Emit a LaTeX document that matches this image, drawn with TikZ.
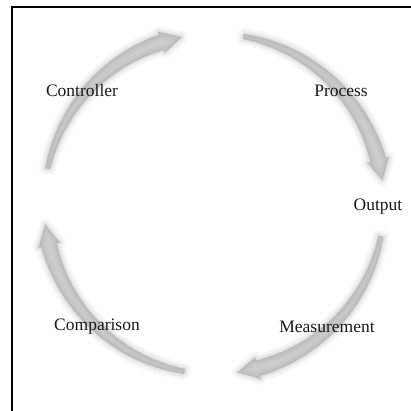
\documentclass[tikz,border=0pt]{standalone}
\usepackage{fontspec}
\setmainfont{Liberation Serif}
\newcommand\cyc[3]{%
 \pgfmathsetmacro\hb{#2+7}%
 \path[#3] plot[domain=#1:\hb,samples=40] ({214+(170+2.5+5.5*(#1-\x)/(#1-\hb))*cos(\x)},{207+(170+2.5+5.5*(#1-\x)/(#1-\hb))*sin(\x)})
 -- ({214+181*cos(\hb)},{207+181*sin(\hb)})
 -- ({214+170*cos(#2)},{207+170*sin(#2)})
 -- ({214+159*cos(\hb)},{207+159*sin(\hb)})
 -- plot[domain=\hb:#1,samples=40] ({214+(170-2.5-5.5*(#1-\x)/(#1-\hb))*cos(\x)},{207+(170-2.5-5.5*(#1-\x)/(#1-\hb))*sin(\x)}) -- cycle;
}
\newcommand\blurarrow[2]{%
 \cyc{#1}{#2}{fill=gray,draw=gray,fill opacity=0.06,draw opacity=0.06,line width=12pt,line join=round}%
 \cyc{#1}{#2}{fill=gray,draw=gray,fill opacity=0.08,draw opacity=0.08,line width=7pt,line join=round}%
 \cyc{#1}{#2}{fill=gray,draw=gray,fill opacity=0.12,draw opacity=0.12,line width=3pt,line join=round}%
 \cyc{#1}{#2}{fill=gray,fill opacity=0.18}%
}
\begin{document}
\begin{tikzpicture}[x=1pt,y=1pt,
  lbl/.style={font=\fontsize{17.5}{20}\selectfont, text=black!90, inner sep=0pt},
  frame/.style={line width=2pt}]
\useasboundingbox (0,0) rectangle (411,411);
\fill[white] (0,0) rectangle (411,411);
\coordinate (fb) at (12,0);
\coordinate (fc) at (12,403.5);
\coordinate (fr) at (411,403.5);
\draw[frame] (fb) -- (fc) -- (fr);
\blurarrow{168}{101}
\blurarrow{80}{8}
\blurarrow{-11}{-82}
\blurarrow{-100}{-173}
\node[lbl] (controller) at (82,320) {Controller};
\node[lbl] (process) at (341,320) {Process};
\node[lbl] (output) at (378,204) {Output};
\node[lbl] (measurement) at (327,84) {Measurement};
\node[lbl] (comparison) at (97,84) {Comparison};
\end{tikzpicture}
\end{document}
